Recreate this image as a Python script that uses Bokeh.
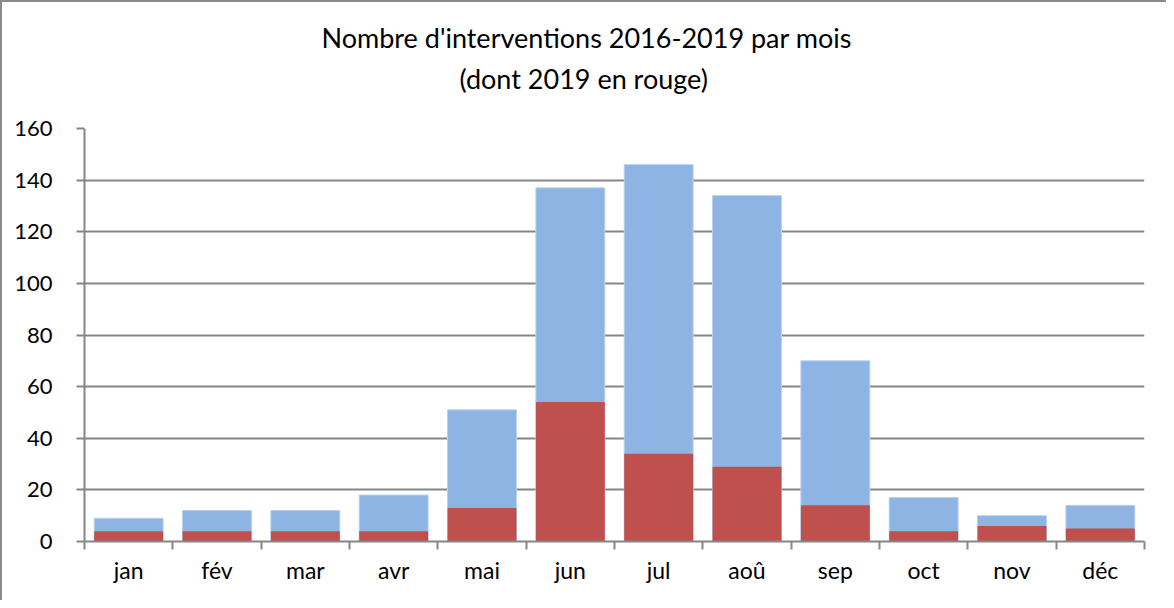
from bokeh.plotting import figure
from bokeh.models import Range1d, FixedTicker, Title
from bokeh.embed import file_html
from bokeh.resources import INLINE

months = ["jan", "fév", "mar", "avr", "mai", "jun", "jul", "aoû", "sep", "oct", "nov", "déc"]
total_2016_2019 = [9, 12, 12, 18, 51, 137, 146, 134, 70, 17, 10, 14]
year_2019 = [4, 4, 4, 4, 13, 54, 34, 29, 14, 4, 6, 5]
y_ticks = [0, 20, 40, 60, 80, 100, 120, 140, 160]
title_lines = ["Nombre d'interventions 2016-2019 par mois", "(dont 2019 en rouge)"]

FONT = "Lato"
GRID = "#868686"

xs = [i + 0.5 for i in range(len(months))]

p = figure(width=1166, height=600, output_backend="svg", toolbar_location=None,
           x_range=Range1d(0, len(months)), y_range=Range1d(0, 160),
           min_border_left=82, min_border_right=24, min_border_top=126, min_border_bottom=61)
p.styles = {"border-left": "2px solid #8a8a8a", "border-top": "2px solid #8a8a8a",
            "box-sizing": "border-box"}
p.outline_line_color = None
p.background_fill_color = "white"
p.border_fill_color = "white"

p.vbar(x=xs, top=total_2016_2019, width=0.78, fill_color="#8EB4E3", line_color="#B9D1F0", line_width=1)
p.vbar(x=xs, top=year_2019, width=0.78, fill_color="#C0504D", line_color="#C0504D", line_width=0)

# x axis
p.xaxis.ticker = FixedTicker(ticks=xs, minor_ticks=list(range(len(months) + 1)))
p.xaxis.major_label_overrides = {x: m for x, m in zip(xs, months)}
p.xaxis.major_tick_out = 0
p.xaxis.major_tick_in = 0
p.xaxis.minor_tick_out = 8
p.xaxis.minor_tick_in = 0
p.xaxis.minor_tick_line_color = GRID
p.xaxis.minor_tick_line_width = 2
p.xaxis.axis_line_color = GRID
p.xaxis.axis_line_width = 2
p.xaxis.major_label_standoff = 6
p.xaxis.major_label_text_font = FONT
p.xaxis.major_label_text_font_size = "23px"
p.xaxis.major_label_text_color = "black"

# y axis
p.yaxis.ticker = FixedTicker(ticks=y_ticks, minor_ticks=[])
p.yaxis.major_tick_out = 8
p.yaxis.major_tick_in = 0
p.yaxis.major_tick_line_color = GRID
p.yaxis.major_tick_line_width = 2
p.yaxis.axis_line_color = GRID
p.yaxis.axis_line_width = 2
p.yaxis.major_label_standoff = 24
p.yaxis.major_label_text_font = FONT
p.yaxis.major_label_text_font_size = "22px"
p.yaxis.major_label_text_color = "black"

p.xgrid.grid_line_color = None
p.ygrid.grid_line_color = GRID
p.ygrid.grid_line_width = 2

# title: spacer nearest the frame, then line 2, then line 1
p.add_layout(Title(text=" ", text_font_size="1px", standoff=28), "above")
p.add_layout(Title(text=title_lines[1], align="left", offset=375, standoff=6,
                   text_font=FONT, text_font_size="27px", text_font_style="normal",
                   text_color="black"), "above")
p.add_layout(Title(text=title_lines[0], align="left", offset=237, standoff=6,
                   text_font=FONT, text_font_size="27px", text_font_style="normal",
                   text_color="black"), "above")

open("out.html", "w").write(file_html(p, INLINE))
